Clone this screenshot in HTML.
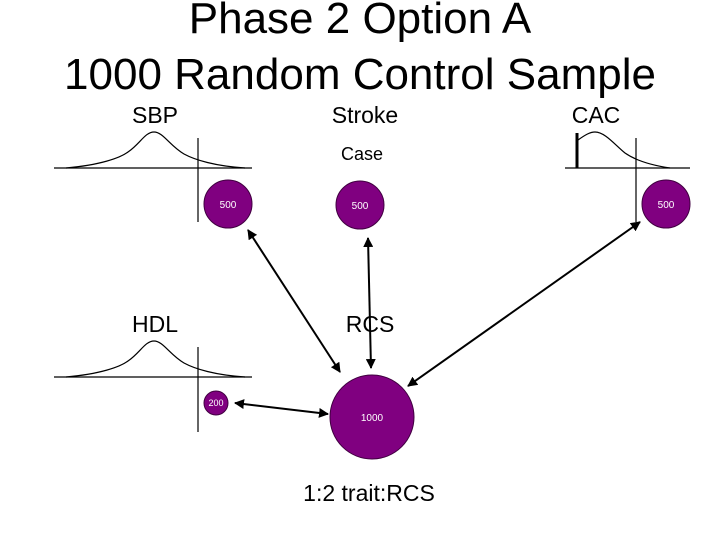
<!DOCTYPE html>
<html><head><style>body{margin:0;background:#fff}</style></head><body>
<svg width="720" height="540" xmlns="http://www.w3.org/2000/svg" font-family="Liberation Sans, sans-serif">
<defs><marker id="a" viewBox="0 0 10 10" refX="9" refY="5" markerWidth="5" markerHeight="5" orient="auto-start-reverse"><path d="M0 0L10 5L0 10z" fill="#000"/></marker></defs>
<text x="360" y="33" font-size="44" text-anchor="middle">Phase 2 Option A</text>
<text x="360" y="89" font-size="44" text-anchor="middle">1000 Random Control Sample</text>
<g font-size="23" text-anchor="middle">
<text x="155" y="123">SBP</text><text x="365" y="123">Stroke</text><text x="596" y="123">CAC</text>
<text x="155" y="332">HDL</text><text x="370" y="332">RCS</text><text x="369" y="501">1:2 trait:RCS</text>
</g>
<text x="362" y="160" font-size="18" text-anchor="middle">Case</text>
<g stroke="#000" fill="none" stroke-width="1.2">
<line x1="54" y1="168" x2="252" y2="168"/><line x1="198" y1="138" x2="198" y2="222"/>
<path d="M66 168 C100 165,120 158,128 152 C140 144,145 132,154 132 C163 132,170 146,184 154 C195 160,215 166,245 168"/>
<line x1="54" y1="377" x2="252" y2="377"/><line x1="198" y1="347" x2="198" y2="432"/>
<path d="M66 377 C100 374,120 367,128 361 C140 353,145 341,154 341 C163 341,170 355,184 363 C195 369,215 375,245 377"/>
<line x1="565" y1="168" x2="690" y2="168"/><line x1="636" y1="138" x2="636" y2="222"/>
<line x1="577" y1="133" x2="577" y2="168" stroke-width="3"/>
<path d="M578 140 C585 135,590 132,595 132 C605 132,615 145,625 153 C635 160,650 165,670 168"/>
</g>
<g fill="#800080" stroke="#400040">
<circle cx="228" cy="204" r="24"/><circle cx="360" cy="205" r="24"/><circle cx="666" cy="204" r="24"/>
<circle cx="216" cy="403" r="12"/><circle cx="372" cy="417" r="42"/>
</g>
<g fill="#fff" text-anchor="middle" font-size="10">
<text x="228" y="208">500</text><text x="360" y="209">500</text><text x="666" y="208">500</text>
<text x="216" y="406" font-size="9">200</text><text x="372" y="421">1000</text>
</g>
<g stroke="#000" stroke-width="2" marker-start="url(#a)" marker-end="url(#a)">
<line x1="248" y1="230" x2="340" y2="372"/>
<line x1="368" y1="238" x2="371" y2="368"/>
<line x1="640" y1="222" x2="408" y2="386"/>
<line x1="235" y1="403" x2="328" y2="414"/>
</g>
</svg>
</body></html>
